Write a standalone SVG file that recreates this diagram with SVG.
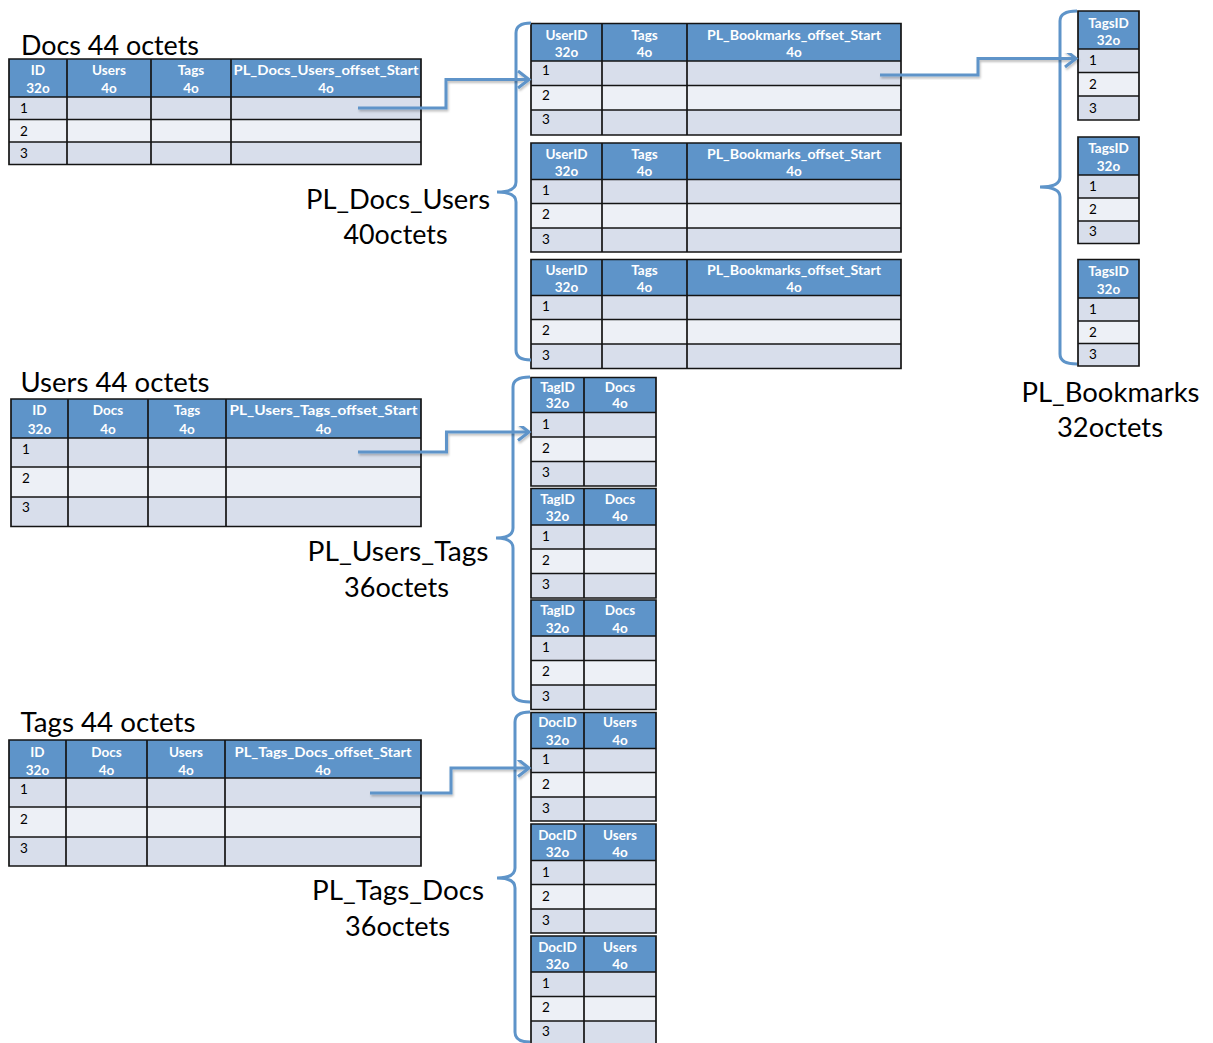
<svg xmlns="http://www.w3.org/2000/svg" width="1213" height="1043" viewBox="0 0 1213 1043">
<style>
.hd{fill:#5E94C9}
.r1{fill:#D8DEEB}
.r2{fill:#EDF0F6}
.g{stroke:#141414;stroke-width:1.7;fill:none}
.ht{font-family:Lato,"Open Sans",sans-serif;font-weight:bold;font-size:13.5px;fill:#fff;text-anchor:middle}
.rn{font-family:Lato,"Open Sans",sans-serif;font-size:13.5px;fill:#000}
.big{font-family:Lato,"Open Sans",sans-serif;font-size:27px;fill:#000}
.br{stroke:#5E94C9;stroke-width:3;fill:none}
.con{stroke:#5E94C9;stroke-width:3;fill:none;marker-end:url(#arr);filter:url(#sh)}
</style>
<defs>
<marker id="arr" markerUnits="userSpaceOnUse" markerWidth="18" markerHeight="22" refX="13" refY="10" orient="auto" overflow="visible">
<path d="M2,1.5 L13,10 L2,18.5" fill="none" stroke="#5E94C9" stroke-width="3"/>
</marker>
<filter id="sh" x="-10%" y="-30%" width="120%" height="160%">
<feDropShadow dx="1" dy="2" stdDeviation="1" flood-color="#000" flood-opacity="0.25"/>
</filter>
</defs>

<!-- Docs table -->
<g id="docs">
<text class="big" x="21" y="54.5" textLength="178" lengthAdjust="spacingAndGlyphs">Docs 44 octets</text>
<rect class="hd" x="9" y="59" width="412" height="38"/>
<rect class="r1" x="9" y="97" width="412" height="22.5"/>
<rect class="r2" x="9" y="119.5" width="412" height="22.5"/>
<rect class="r1" x="9" y="142" width="412" height="22.5"/>
<path class="g" d="M9,59H421V164.5H9Z M9,97H421 M9,119.5H421 M9,142H421 M67,59V164.5 M151,59V164.5 M231,59V164.5"/>
<text class="ht" x="38" y="75">ID</text><text class="ht" x="38" y="93">32o</text>
<text class="ht" x="109" y="75">Users</text><text class="ht" x="109" y="93">4o</text>
<text class="ht" x="191" y="75">Tags</text><text class="ht" x="191" y="93">4o</text>
<text class="ht" x="326" y="75" textLength="185" lengthAdjust="spacingAndGlyphs">PL_Docs_Users_offset_Start</text><text class="ht" x="326" y="93">4o</text>
<text class="rn" x="20" y="113">1</text>
<text class="rn" x="20" y="135.5">2</text>
<text class="rn" x="20" y="158">3</text>
</g>

<!-- Users table -->
<g id="users">
<text class="big" x="20.5" y="392" textLength="189" lengthAdjust="spacingAndGlyphs">Users 44 octets</text>
<rect class="hd" x="11" y="399" width="410" height="39"/>
<rect class="r1" x="11" y="438" width="410" height="29"/>
<rect class="r2" x="11" y="467" width="410" height="30"/>
<rect class="r1" x="11" y="497" width="410" height="29.5"/>
<path class="g" d="M11,399H421V526.5H11Z M11,438H421 M11,467H421 M11,497H421 M68,399V526.5 M148,399V526.5 M226,399V526.5"/>
<text class="ht" x="39.5" y="415">ID</text><text class="ht" x="39.5" y="434">32o</text>
<text class="ht" x="108" y="415">Docs</text><text class="ht" x="108" y="434">4o</text>
<text class="ht" x="187" y="415">Tags</text><text class="ht" x="187" y="434">4o</text>
<text class="ht" x="323.5" y="415" textLength="188" lengthAdjust="spacingAndGlyphs">PL_Users_Tags_offset_Start</text><text class="ht" x="323.5" y="434">4o</text>
<text class="rn" x="22" y="453.5">1</text>
<text class="rn" x="22" y="482.5">2</text>
<text class="rn" x="22" y="512">3</text>
</g>

<!-- Tags table -->
<g id="tags">
<text class="big" x="20.5" y="732" textLength="175" lengthAdjust="spacingAndGlyphs">Tags 44 octets</text>
<rect class="hd" x="9" y="740" width="412" height="38"/>
<rect class="r1" x="9" y="778" width="412" height="29"/>
<rect class="r2" x="9" y="807" width="412" height="30"/>
<rect class="r1" x="9" y="837" width="412" height="29"/>
<path class="g" d="M9,740H421V866H9Z M9,778H421 M9,807H421 M9,837H421 M66,740V866 M147,740V866 M225,740V866"/>
<text class="ht" x="37.5" y="756.5">ID</text><text class="ht" x="37.5" y="774.5">32o</text>
<text class="ht" x="106.5" y="756.5">Docs</text><text class="ht" x="106.5" y="774.5">4o</text>
<text class="ht" x="186" y="756.5">Users</text><text class="ht" x="186" y="774.5">4o</text>
<text class="ht" x="323" y="756.5" textLength="177" lengthAdjust="spacingAndGlyphs">PL_Tags_Docs_offset_Start</text><text class="ht" x="323" y="774.5">4o</text>
<text class="rn" x="20" y="794">1</text>
<text class="rn" x="20" y="823.5">2</text>
<text class="rn" x="20" y="853">3</text>
</g>

<!-- PL_Docs_Users -->
<g id="pl-docs-users">
<text class="big" x="306" y="209" textLength="184" lengthAdjust="spacingAndGlyphs">PL_Docs_Users</text>
<text class="big" x="343.5" y="244" textLength="104" lengthAdjust="spacingAndGlyphs">40octets</text>
<g id="pdu-1">
<rect class="hd" x="531" y="23.5" width="370" height="37.5"/>
<rect class="r1" x="531" y="61" width="370" height="24.5"/>
<rect class="r2" x="531" y="85.5" width="370" height="24.5"/>
<rect class="r1" x="531" y="110" width="370" height="25"/>
<path class="g" d="M531,23.5H901V135H531Z M531,61H901 M531,85.5H901 M531,110H901 M602,23.5V135 M687,23.5V135"/>
<text class="ht" x="566.5" y="40">UserID</text><text class="ht" x="566.5" y="56.5">32o</text>
<text class="ht" x="644.5" y="40">Tags</text><text class="ht" x="644.5" y="56.5">4o</text>
<text class="ht" x="794" y="40" textLength="174" lengthAdjust="spacingAndGlyphs">PL_Bookmarks_offset_Start</text><text class="ht" x="794" y="56.5">4o</text>
<text class="rn" x="542" y="75">1</text>
<text class="rn" x="542" y="99.5">2</text>
<text class="rn" x="542" y="124">3</text>
</g>
<g id="pdu-2">
<rect class="hd" x="531" y="143" width="370" height="36.5"/>
<rect class="r1" x="531" y="179.5" width="370" height="24"/>
<rect class="r2" x="531" y="203.5" width="370" height="24.5"/>
<rect class="r1" x="531" y="228" width="370" height="24"/>
<path class="g" d="M531,143H901V252H531Z M531,179.5H901 M531,203.5H901 M531,228H901 M602,143V252 M687,143V252"/>
<text class="ht" x="566.5" y="158.5">UserID</text><text class="ht" x="566.5" y="176">32o</text>
<text class="ht" x="644.5" y="158.5">Tags</text><text class="ht" x="644.5" y="176">4o</text>
<text class="ht" x="794" y="158.5" textLength="174" lengthAdjust="spacingAndGlyphs">PL_Bookmarks_offset_Start</text><text class="ht" x="794" y="176">4o</text>
<text class="rn" x="542" y="195">1</text>
<text class="rn" x="542" y="219">2</text>
<text class="rn" x="542" y="243.5">3</text>
</g>
<g id="pdu-3">
<rect class="hd" x="531" y="259.5" width="370" height="36"/>
<rect class="r1" x="531" y="295.5" width="370" height="24"/>
<rect class="r2" x="531" y="319.5" width="370" height="24.5"/>
<rect class="r1" x="531" y="344" width="370" height="24.5"/>
<path class="g" d="M531,259.5H901V368.5H531Z M531,295.5H901 M531,319.5H901 M531,344H901 M602,259.5V368.5 M687,259.5V368.5"/>
<text class="ht" x="566.5" y="274.5">UserID</text><text class="ht" x="566.5" y="292">32o</text>
<text class="ht" x="644.5" y="274.5">Tags</text><text class="ht" x="644.5" y="292">4o</text>
<text class="ht" x="794" y="274.5" textLength="174" lengthAdjust="spacingAndGlyphs">PL_Bookmarks_offset_Start</text><text class="ht" x="794" y="292">4o</text>
<text class="rn" x="542" y="311">1</text>
<text class="rn" x="542" y="334.5">2</text>
<text class="rn" x="542" y="359.5">3</text>
</g>
</g>

<!-- PL_Bookmarks -->
<g id="pl-bookmarks">
<text class="big" x="1021.5" y="402" textLength="178" lengthAdjust="spacingAndGlyphs">PL_Bookmarks</text>
<text class="big" x="1057" y="437" textLength="106" lengthAdjust="spacingAndGlyphs">32octets</text>
<g id="pb-1">
<rect class="hd" x="1078" y="11" width="61" height="38"/>
<rect class="r1" x="1078" y="49" width="61" height="23.5"/>
<rect class="r2" x="1078" y="72.5" width="61" height="23.5"/>
<rect class="r1" x="1078" y="96" width="61" height="24"/>
<path class="g" d="M1078,11H1139V120H1078Z M1078,49H1139 M1078,72.5H1139 M1078,96H1139"/>
<text class="ht" x="1108.5" y="27.5">TagsID</text><text class="ht" x="1108.5" y="45">32o</text>
<text class="rn" x="1089" y="65">1</text>
<text class="rn" x="1089" y="89">2</text>
<text class="rn" x="1089" y="112.5">3</text>
</g>
<g id="pb-2">
<rect class="hd" x="1078" y="137" width="61" height="38"/>
<rect class="r1" x="1078" y="175" width="61" height="23"/>
<rect class="r2" x="1078" y="198" width="61" height="23"/>
<rect class="r1" x="1078" y="221" width="61" height="22.5"/>
<path class="g" d="M1078,137H1139V243.5H1078Z M1078,175H1139 M1078,198H1139 M1078,221H1139"/>
<text class="ht" x="1108.5" y="153">TagsID</text><text class="ht" x="1108.5" y="170.5">32o</text>
<text class="rn" x="1089" y="191">1</text>
<text class="rn" x="1089" y="213.5">2</text>
<text class="rn" x="1089" y="236">3</text>
</g>
<g id="pb-3">
<rect class="hd" x="1078" y="259.5" width="61" height="38.5"/>
<rect class="r1" x="1078" y="298" width="61" height="23"/>
<rect class="r2" x="1078" y="321" width="61" height="22.5"/>
<rect class="r1" x="1078" y="343.5" width="61" height="22.5"/>
<path class="g" d="M1078,259.5H1139V366H1078Z M1078,298H1139 M1078,321H1139 M1078,343.5H1139"/>
<text class="ht" x="1108.5" y="276">TagsID</text><text class="ht" x="1108.5" y="294">32o</text>
<text class="rn" x="1089" y="314">1</text>
<text class="rn" x="1089" y="336.5">2</text>
<text class="rn" x="1089" y="358.5">3</text>
</g>
</g>

<!-- PL_Users_Tags -->
<g id="pl-users-tags">
<text class="big" x="307.5" y="561" textLength="181" lengthAdjust="spacingAndGlyphs">PL_Users_Tags</text>
<text class="big" x="344" y="597" textLength="105" lengthAdjust="spacingAndGlyphs">36octets</text>
<g id="put-1">
<rect class="hd" x="531" y="377.5" width="125" height="35"/>
<rect class="r1" x="531" y="412.5" width="125" height="24.5"/>
<rect class="r2" x="531" y="437" width="125" height="24.5"/>
<rect class="r1" x="531" y="461.5" width="125" height="24.5"/>
<path class="g" d="M531,377.5H656V486H531Z M531,412.5H656 M531,437H656 M531,461.5H656 M584,377.5V486"/>
<text class="ht" x="557.5" y="391.5">TagID</text><text class="ht" x="557.5" y="408">32o</text>
<text class="ht" x="620" y="391.5">Docs</text><text class="ht" x="620" y="408">4o</text>
<text class="rn" x="542" y="428.5">1</text>
<text class="rn" x="542" y="452.5">2</text>
<text class="rn" x="542" y="477">3</text>
</g>
<g id="put-2">
<rect class="hd" x="531" y="488.5" width="125" height="36.5"/>
<rect class="r1" x="531" y="525" width="125" height="24"/>
<rect class="r2" x="531" y="549" width="125" height="24.5"/>
<rect class="r1" x="531" y="573.5" width="125" height="24.5"/>
<path class="g" d="M531,488.5H656V598H531Z M531,525H656 M531,549H656 M531,573.5H656 M584,488.5V598"/>
<text class="ht" x="557.5" y="503.5">TagID</text><text class="ht" x="557.5" y="520.5">32o</text>
<text class="ht" x="620" y="503.5">Docs</text><text class="ht" x="620" y="520.5">4o</text>
<text class="rn" x="542" y="540.5">1</text>
<text class="rn" x="542" y="564.5">2</text>
<text class="rn" x="542" y="588.5">3</text>
</g>
<g id="put-3">
<rect class="hd" x="531" y="600" width="125" height="36"/>
<rect class="r1" x="531" y="636" width="125" height="24.5"/>
<rect class="r2" x="531" y="660.5" width="125" height="24.5"/>
<rect class="r1" x="531" y="685" width="125" height="24.5"/>
<path class="g" d="M531,600H656V709.5H531Z M531,636H656 M531,660.5H656 M531,685H656 M584,600V709.5"/>
<text class="ht" x="557.5" y="615">TagID</text><text class="ht" x="557.5" y="632.5">32o</text>
<text class="ht" x="620" y="615">Docs</text><text class="ht" x="620" y="632.5">4o</text>
<text class="rn" x="542" y="652">1</text>
<text class="rn" x="542" y="676">2</text>
<text class="rn" x="542" y="700.5">3</text>
</g>
</g>

<!-- PL_Tags_Docs -->
<g id="pl-tags-docs">
<text class="big" x="312" y="900" textLength="172" lengthAdjust="spacingAndGlyphs">PL_Tags_Docs</text>
<text class="big" x="345" y="936" textLength="105" lengthAdjust="spacingAndGlyphs">36octets</text>
<g id="ptd-1">
<rect class="hd" x="531" y="712.5" width="125" height="36"/>
<rect class="r1" x="531" y="748.5" width="125" height="24"/>
<rect class="r2" x="531" y="772.5" width="125" height="24.5"/>
<rect class="r1" x="531" y="797" width="125" height="24"/>
<path class="g" d="M531,712.5H656V821H531Z M531,748.5H656 M531,772.5H656 M531,797H656 M584,712.5V821"/>
<text class="ht" x="557.5" y="727">DocID</text><text class="ht" x="557.5" y="744.5">32o</text>
<text class="ht" x="620" y="727">Users</text><text class="ht" x="620" y="744.5">4o</text>
<text class="rn" x="542" y="764">1</text>
<text class="rn" x="542" y="788.5">2</text>
<text class="rn" x="542" y="812.5">3</text>
</g>
<g id="ptd-2">
<rect class="hd" x="531" y="824" width="125" height="36.5"/>
<rect class="r1" x="531" y="860.5" width="125" height="24"/>
<rect class="r2" x="531" y="884.5" width="125" height="24.5"/>
<rect class="r1" x="531" y="909" width="125" height="24"/>
<path class="g" d="M531,824H656V933H531Z M531,860.5H656 M531,884.5H656 M531,909H656 M584,824V933"/>
<text class="ht" x="557.5" y="839.5">DocID</text><text class="ht" x="557.5" y="857">32o</text>
<text class="ht" x="620" y="839.5">Users</text><text class="ht" x="620" y="857">4o</text>
<text class="rn" x="542" y="876.5">1</text>
<text class="rn" x="542" y="900.5">2</text>
<text class="rn" x="542" y="924.5">3</text>
</g>
<g id="ptd-3">
<rect class="hd" x="531" y="936" width="125" height="36"/>
<rect class="r1" x="531" y="972" width="125" height="24.5"/>
<rect class="r2" x="531" y="996.5" width="125" height="24.5"/>
<rect class="r1" x="531" y="1021" width="125" height="25"/>
<path class="g" d="M531,936H656V1046H531Z M531,972H656 M531,996.5H656 M531,1021H656 M584,936V1046"/>
<text class="ht" x="557.5" y="951.5">DocID</text><text class="ht" x="557.5" y="968.5">32o</text>
<text class="ht" x="620" y="951.5">Users</text><text class="ht" x="620" y="968.5">4o</text>
<text class="rn" x="542" y="987.5">1</text>
<text class="rn" x="542" y="1012">2</text>
<text class="rn" x="542" y="1036">3</text>
</g>
</g>

<!-- braces -->
<g id="braces">
<path class="br" d="M531,23 Q516,23 516,33 V182 Q516,192 497,192 Q516,192 516,202 V350 Q516,360 531,360"/>
<path class="br" d="M530,377 Q513,377 513,387 V528 Q513,538 496,538 Q513,538 513,548 V692 Q513,702 530,702"/>
<path class="br" d="M530,712 Q515,712 515,722 V868 Q515,878 497,878 Q515,878 515,888 V1032 Q515,1042 530,1042"/>
<path class="br" d="M1077,11 Q1060,11 1060,21 V177 Q1060,187 1040,187 Q1060,187 1060,197 V354 Q1060,364 1077,364"/>
</g>

<!-- connectors -->
<g id="connectors">
<path class="con" d="M358,108 H446 V79.5 H529"/>
<path class="con" d="M358,452 H446.5 V432 H529"/>
<path class="con" d="M370,793 H451 V768 H529"/>
<path class="con" d="M880,75 H978 V58.5 H1076"/>
</g>
</svg>
